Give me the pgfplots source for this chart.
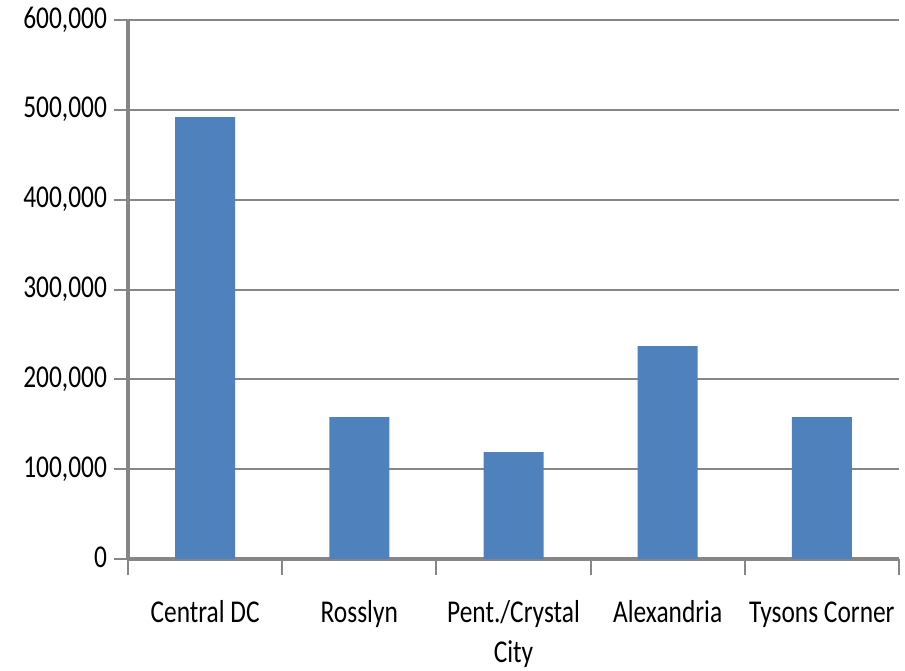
\documentclass[border=0pt]{standalone}
\usepackage{fontspec}
\setmainfont{Carlito}
\usepackage{graphicx}
\usepackage{pgfplots}
\pgfplotsset{compat=1.18}
\definecolor{barblue}{HTML}{4F81BD}
\definecolor{axgray}{HTML}{868686}
% text in the reference is a bit stretched vertically
\newcommand\lbl[1]{\scalebox{1}[1.25]{\fontsize{12.7}{16}\selectfont\begin{tabular}[t]{@{}c@{}}#1\end{tabular}}}

\begin{document}
\begin{tikzpicture}
\useasboundingbox (-64pt,-55.5pt) rectangle (388.5pt,279.5pt);
\begin{axis}[
    at={(0,0)}, anchor=south west,
    scale only axis,
    width=385.5pt, height=269.5pt,
    ybar, bar width=30pt,
    xmin=-0.5, xmax=4.5,
    ymin=0, ymax=600000,
    scaled y ticks=false,
    ytick={0,100000,200000,300000,400000,500000,600000},
    yticklabels={\lbl{0},\lbl{100,000},\lbl{200,000},\lbl{300,000},\lbl{400,000},\lbl{500,000},\lbl{600,000}},
    xtick={0,...,4},
    xticklabels={\lbl{Central DC},\lbl{Rosslyn},\lbl{Pent./Crystal\\City},\lbl{Alexandria},\lbl{Tysons Corner}},
    xticklabel style={yshift=-7pt},
    minor xtick={-0.5,0.5,1.5,2.5,3.5,4.5},
    major x tick style={draw=none},
    minor x tick style={draw=axgray, line width=1pt},
    major y tick style={draw=axgray, line width=1pt},
    minor tick length=8pt,
    major tick length=7pt,
    tick align=outside,
    axis lines*=left,
    axis line style={-, draw=axgray, line width=2pt},
    ymajorgrids,
    grid style={draw=axgray, line width=1pt},
]
\addplot[fill=barblue, draw=none] coordinates {(0,492000) (1,158000) (2,119000) (3,237000) (4,158000)};
\end{axis}
\end{tikzpicture}
\end{document}
